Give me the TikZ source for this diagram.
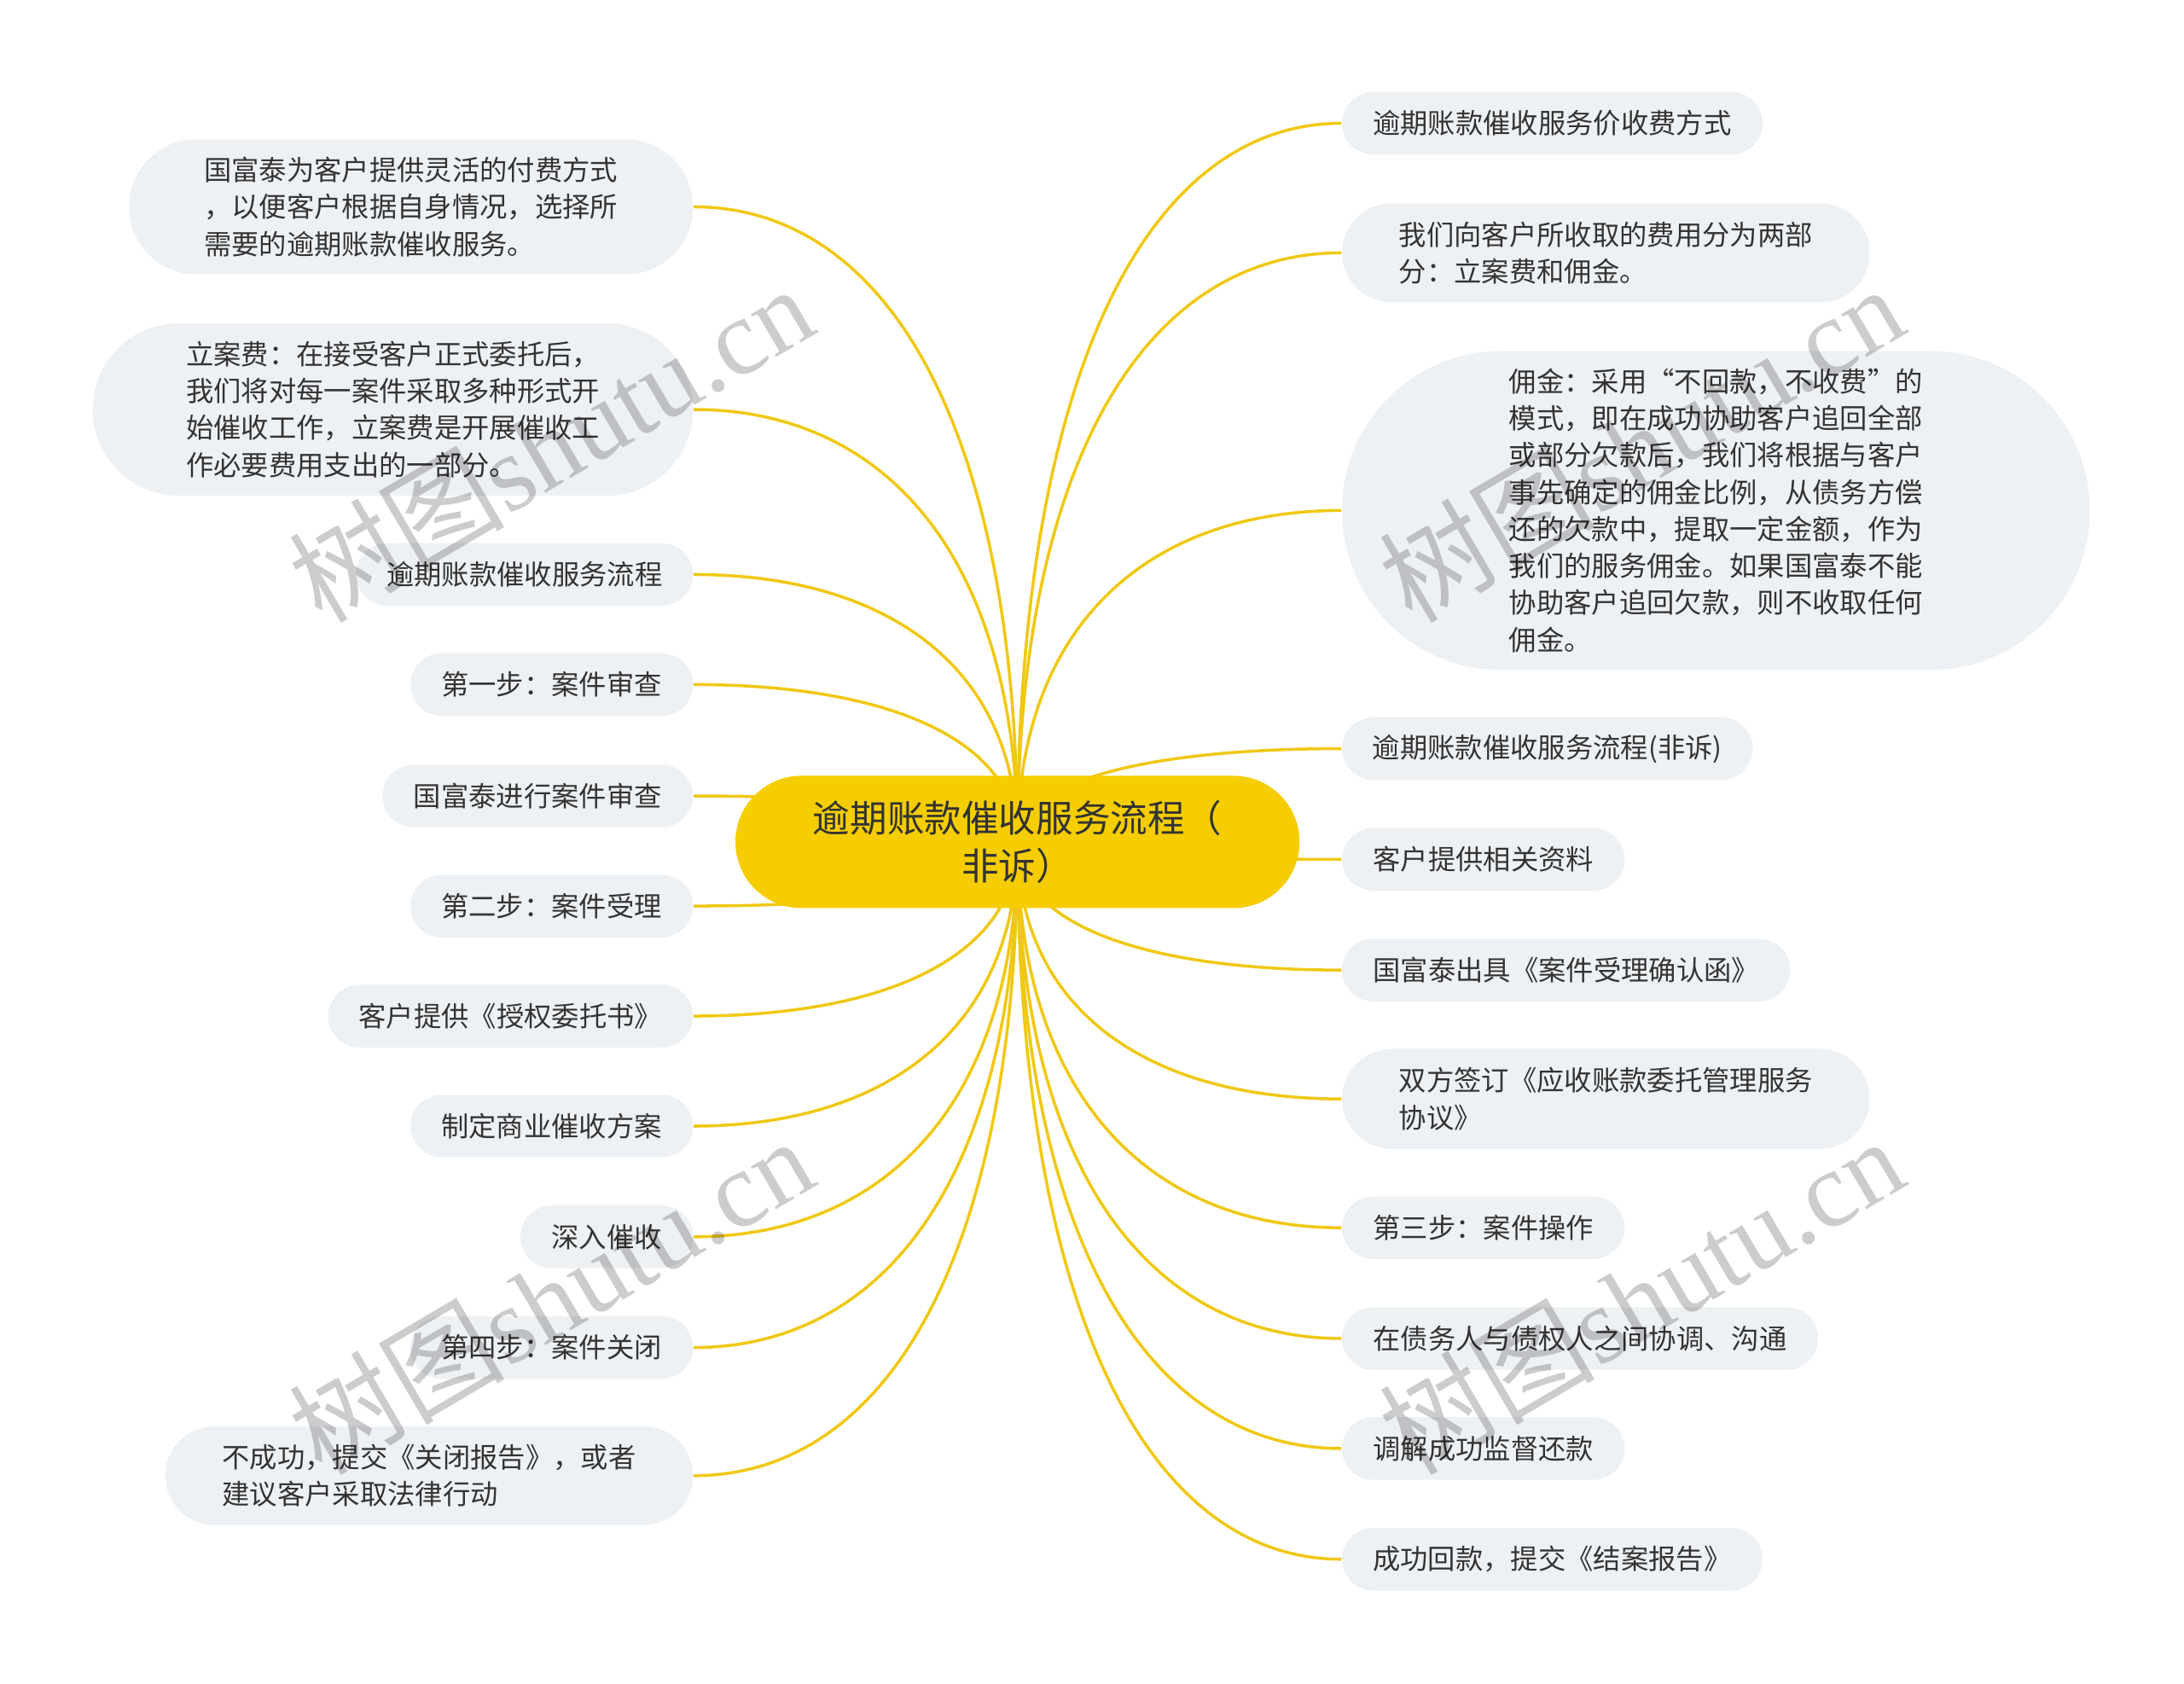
\documentclass[tikz,border=0pt]{standalone}
\usepackage{fontspec}
\setmainfont{Noto Sans CJK SC}
\newfontfamily\wmlatin{Liberation Serif}
\usetikzlibrary{calc,backgrounds}
\definecolor{rootyellow}{RGB}{245,205,0}
\definecolor{branchyellow}{RGB}{240,200,20}
\definecolor{leafgray}{RGB}{238,241,244}
\definecolor{inkdark}{RGB}{51,51,51}

\begin{document}
\begin{tikzpicture}[
      x=0.016327cm, y=-0.016327cm,
      line cap=round,
      line join=round,
      boxsize/.style 2 args={minimum width={#1*0.016327cm},
        minimum height={#2*0.016327cm}, rounded corners={#2*0.00815cm}},
      leaf/.style={fill=leafgray, text=inkdark, inner sep=0pt, align=left,
        font=\fontsize{9.2pt}{12.3pt}\selectfont},
      root/.style={fill=rootyellow, text=inkdark, inner sep=0pt, align=center,
        font=\fontsize{12.4pt}{15.8pt}\selectfont},
      branch/.style={draw=branchyellow, line width=1pt},
      watermark/.style={rotate=30.5, text=black, text opacity=0.2,
        font=\fontsize{36pt}{36pt}\selectfont},
    ]
    \useasboundingbox (0,0) rectangle (1568,1209);
    %% Central topic.
    \node[root, boxsize={405}{95}] (root) at (730.5,604.5)
      {逾期账款催收服务流程（\\非诉）};
    %% Left branch, top to bottom.
    \node[leaf, boxsize={405}{97}, anchor=east] (l1) at (498,148.5)
      {国富泰为客户提供灵活的付费方式\\，以便客户根据自身情况，选择所\\需要的逾期账款催收服务。};
    \node[leaf, boxsize={431}{124}, anchor=east] (l2) at (498,294)
      {立案费：在接受客户正式委托后，\\我们将对每一案件采取多种形式开\\始催收工作，立案费是开展催收工\\作必要费用支出的一部分。};
    \node[leaf, boxsize={242}{45}, anchor=east] (l3) at (498,412.5) {逾期账款催收服务流程};
    \node[leaf, boxsize={203}{45}, anchor=east] (l4) at (498,491.5) {第一步：案件审查};
    \node[leaf, boxsize={223}{45}, anchor=east] (l5) at (498,571.5) {国富泰进行案件审查};
    \node[leaf, boxsize={203}{45}, anchor=east] (l6) at (498,650.5) {第二步：案件受理};
    \node[leaf, boxsize={262}{45}, anchor=east] (l7) at (498,729.5) {客户提供《授权委托书》};
    \node[leaf, boxsize={203}{45}, anchor=east] (l8) at (498,808.5) {制定商业催收方案};
    \node[leaf, boxsize={124}{45}, anchor=east] (l9) at (498,888) {深入催收};
    \node[leaf, boxsize={203}{45}, anchor=east] (l10) at (498,967.5) {第四步：案件关闭};
    \node[leaf, boxsize={379}{71}, anchor=east] (l11) at (498,1059.5)
      {不成功，提交《关闭报告》，或者\\建议客户采取法律行动};
    %% Right branch, top to bottom.
    \node[leaf, boxsize={302}{45}, anchor=west] (r1) at (963,88.5) {逾期账款催收服务价收费方式};
    \node[leaf, boxsize={379}{71}, anchor=west] (r2) at (963,181.5)
      {我们向客户所收取的费用分为两部\\分：立案费和佣金。};
    \node[leaf, boxsize={537}{229}, anchor=west] (r3) at (963,366.5)
      {佣金：采用“不回款，不收费”的\\模式，即在成功协助客户追回全部\\或部分欠款后，我们将根据与客户\\事先确定的佣金比例，从债务方偿\\还的欠款中，提取一定金额，作为\\我们的服务佣金。如果国富泰不能\\协助客户追回欠款，则不收取任何\\佣金。};
    \node[leaf, boxsize={295}{45}, anchor=west] (r4) at (963,537.5) {逾期账款催收服务流程(非诉)};
    \node[leaf, boxsize={203}{45}, anchor=west] (r5) at (963,617) {客户提供相关资料};
    \node[leaf, boxsize={322}{45}, anchor=west] (r6) at (963,696.5) {国富泰出具《案件受理确认函》};
    \node[leaf, boxsize={379}{72}, anchor=west] (r7) at (963,789)
      {双方签订《应收账款委托管理服务\\协议》};
    \node[leaf, boxsize={203}{45}, anchor=west] (r8) at (963,881.5) {第三步：案件操作};
    \node[leaf, boxsize={342}{45}, anchor=west] (r9) at (963,961) {在债务人与债权人之间协调、沟通};
    \node[leaf, boxsize={203}{45}, anchor=west] (r10) at (963,1040) {调解成功监督还款};
    \node[leaf, boxsize={302}{45}, anchor=west] (r11) at (963,1119.5) {成功回款，提交《结案报告》};
    %% Branch curves, kept behind the boxes.
    \begin{scope}[on background layer]
      \foreach \leaf in {l1,l2,l3,l4,l5,l6,l7,l8,l9,l10,l11}
        \draw[branch] let \p1=(root.center), \p2=(\leaf.east) in
          (\p1) .. controls (\x1,{\y1+0.65*((\y2)-(\y1))})
                and ({\x2+0.6*((\x1)-(\x2))},\y2) .. (\p2);
      \foreach \leaf in {r1,r2,r3,r4,r5,r6,r7,r8,r9,r10,r11}
        \draw[branch] let \p1=(root.center), \p2=(\leaf.west) in
          (\p1) .. controls (\x1,{\y1+0.65*((\y2)-(\y1))})
                and ({\x2+0.6*((\x1)-(\x2))},\y2) .. (\p2);
    \end{scope}
    %% Watermarks.
    \node[watermark] (wm1) at (395,318) {树图{\wmlatin shutu.cn}};
    \node[watermark] (wm2) at (1178,318) {树图{\wmlatin shutu.cn}};
    \node[watermark] (wm3) at (395,930) {树图{\wmlatin shutu.cn}};
    \node[watermark] (wm4) at (1178,930) {树图{\wmlatin shutu.cn}};
  \end{tikzpicture}
\end{document}
